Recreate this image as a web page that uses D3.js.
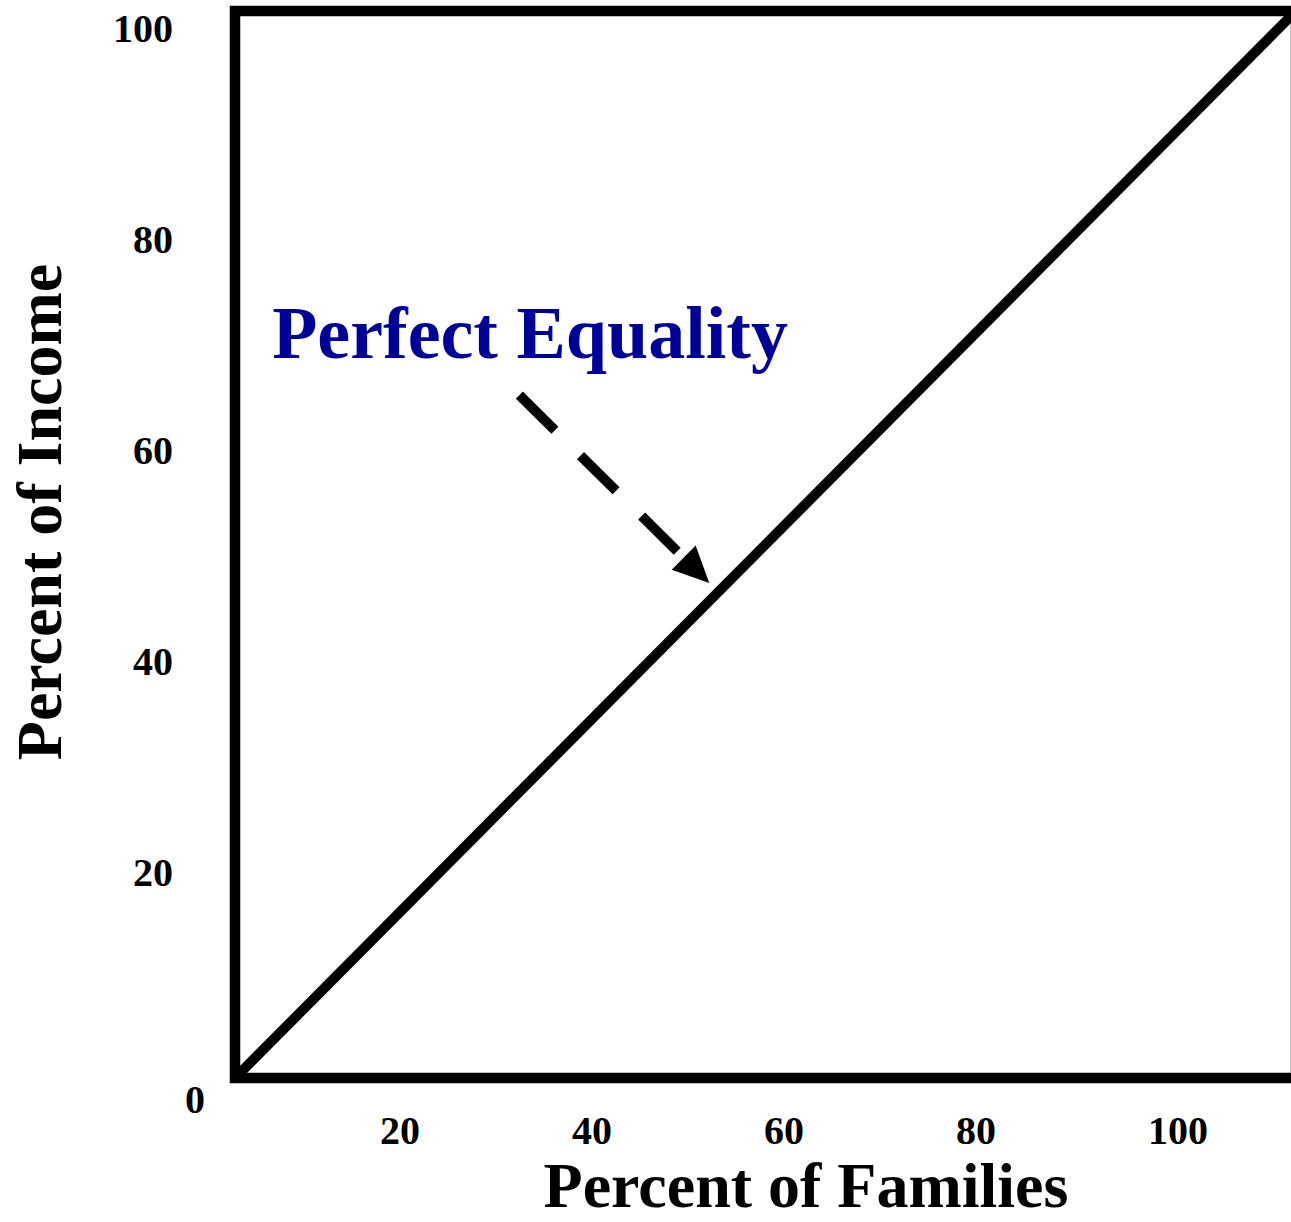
<!DOCTYPE html>
<html>
<head>
<meta charset="utf-8">
<script src="https://cdn.jsdelivr.net/npm/d3@7"></script>
<style>
  html, body { margin: 0; padding: 0; background: #fff; }
  text { font-family: "Liberation Serif", "Times New Roman", serif; font-weight: bold; }
</style>
</head>
<body>
<div id="chart"></div>
<script>
// Lorenz curve base: the line of perfect equality
const equalityLine = [[0, 0], [100, 100]];
const xTickValues = [20, 40, 60, 80, 100];
const yTickValues = [20, 40, 60, 80, 100];
const originLabel = "0";
const xTitle = "Percent of Families";
const yTitle = "Percent of Income";
const annotationText = "Perfect Equality";
// arrow from the label toward the line, in data units
const arrowFrom = [26.8, 64.0];
const arrowTo = [44.7, 46.4];

const width = 1291, height = 1222;

const svg = d3.select("#chart").append("svg")
    .attr("width", width)
    .attr("height", height);

// plot box scales
const x = d3.scaleLinear().domain([0, 100]).range([235, 1296]);
const y = d3.scaleLinear().domain([0, 100]).range([1078, 11]);

// tick label scales (labels sit a bit off the box in the original)
const xLabel = d3.scaleLinear().domain([0, 100]).range([188, 1148]);
const yLabel = d3.scaleLinear().domain([0, 100]).range([1097, 42]);

// frame
svg.append("rect")
    .attr("x", x(0))
    .attr("y", y(100))
    .attr("width", x(100) - x(0))
    .attr("height", y(0) - y(100))
    .attr("fill", "none")
    .attr("stroke", "#000")
    .attr("stroke-width", 10.5);

// equality diagonal
svg.append("path")
    .datum(equalityLine)
    .attr("d", d3.line().x(d => x(d[0])).y(d => y(d[1])))
    .attr("fill", "none")
    .attr("stroke", "#000")
    .attr("stroke-width", 10);

// tick labels
svg.selectAll(".x-tick")
    .data(xTickValues)
    .enter().append("text")
    .attr("class", "x-tick")
    .attr("x", d => xLabel(d))
    .attr("y", 1144)
    .attr("text-anchor", "start")
    .attr("font-size", 40)
    .text(d => d);

svg.selectAll(".y-tick")
    .data(yTickValues)
    .enter().append("text")
    .attr("class", "y-tick")
    .attr("x", 173)
    .attr("y", d => yLabel(d))
    .attr("text-anchor", "end")
    .attr("font-size", 40)
    .text(d => d);

svg.append("text")
    .attr("x", xLabel(0) - 3)
    .attr("y", 1113)
    .attr("font-size", 40)
    .text(originLabel);

// axis titles
svg.append("text")
    .attr("x", 806)
    .attr("y", 1207)
    .attr("text-anchor", "middle")
    .attr("font-size", 64)
    .text(xTitle);

svg.append("text")
    .attr("transform", "translate(61,512) rotate(-90)")
    .attr("text-anchor", "middle")
    .attr("font-size", 64)
    .text(yTitle);

// annotation
svg.append("text")
    .attr("x", x(3.5))
    .attr("y", y(67.5))
    .attr("font-size", 74)
    .attr("fill", "#000099")
    .text(annotationText);

// dashed arrow
const x0 = x(arrowFrom[0]), y0 = y(arrowFrom[1]);
const x1 = x(arrowTo[0]), y1 = y(arrowTo[1]);
const ang = Math.atan2(y1 - y0, x1 - x0);
const headLen = 36, headHalf = 17;
const bx = x1 - headLen * Math.cos(ang), by = y1 - headLen * Math.sin(ang);

svg.append("line")
    .attr("x1", x0).attr("y1", y0)
    .attr("x2", bx - 6 * Math.cos(ang)).attr("y2", by - 6 * Math.sin(ang))
    .attr("stroke", "#000")
    .attr("stroke-width", 10)
    .attr("stroke-dasharray", "50,36");

svg.append("path")
    .attr("d", `M${x1},${y1} L${bx + headHalf * Math.sin(ang)},${by - headHalf * Math.cos(ang)} L${bx - headHalf * Math.sin(ang)},${by + headHalf * Math.cos(ang)} Z`)
    .attr("fill", "#000");
</script>
</body>
</html>
